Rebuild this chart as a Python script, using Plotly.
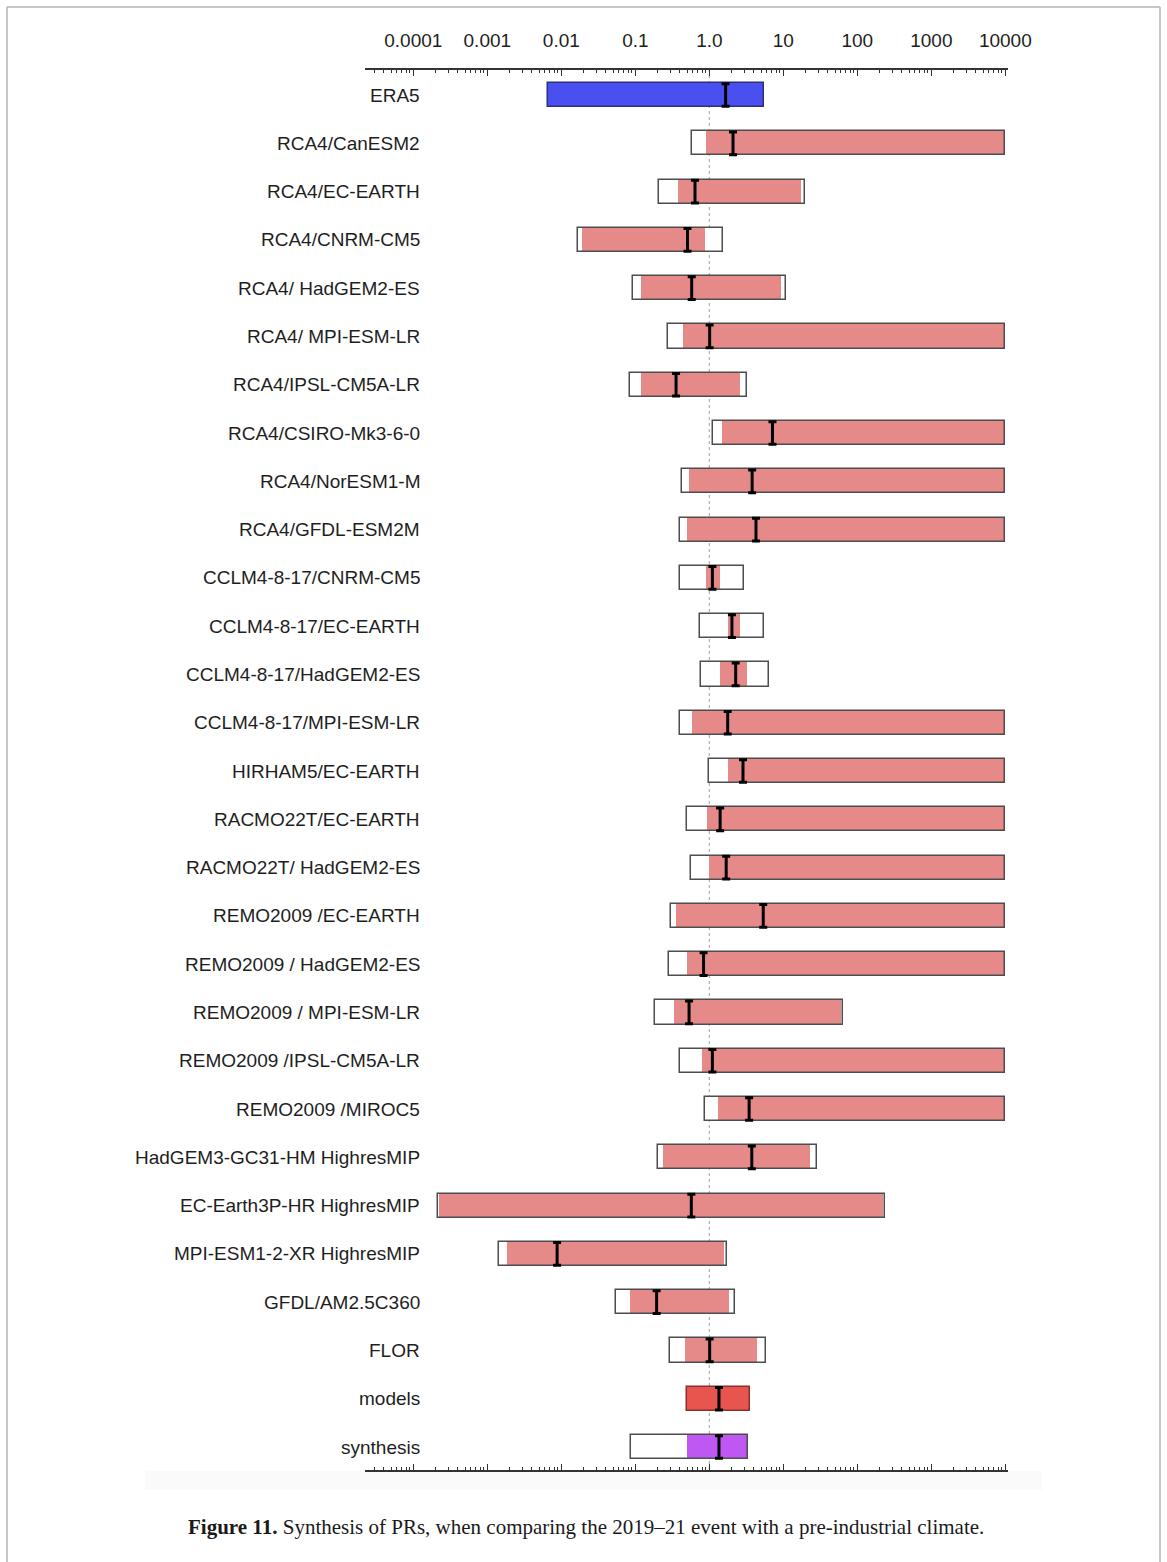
import plotly.graph_objects as go

# Probability ratios (PR) per dataset: outer white box, inner coloured range, best estimate
labels = [
    "ERA5", "RCA4/CanESM2", "RCA4/EC-EARTH", "RCA4/CNRM-CM5", "RCA4/ HadGEM2-ES",
    "RCA4/ MPI-ESM-LR", "RCA4/IPSL-CM5A-LR", "RCA4/CSIRO-Mk3-6-0", "RCA4/NorESM1-M",
    "RCA4/GFDL-ESM2M", "CCLM4-8-17/CNRM-CM5", "CCLM4-8-17/EC-EARTH",
    "CCLM4-8-17/HadGEM2-ES", "CCLM4-8-17/MPI-ESM-LR", "HIRHAM5/EC-EARTH",
    "RACMO22T/EC-EARTH", "RACMO22T/ HadGEM2-ES", "REMO2009 /EC-EARTH",
    "REMO2009 / HadGEM2-ES", "REMO2009 / MPI-ESM-LR", "REMO2009 /IPSL-CM5A-LR",
    "REMO2009 /MIROC5", "HadGEM3-GC31-HM HighresMIP", "EC-Earth3P-HR HighresMIP",
    "MPI-ESM1-2-XR HighresMIP", "GFDL/AM2.5C360", "FLOR", "models", "synthesis",
]

best = [1.66, 2.09, 0.64, 0.507, 0.578, 1.01, 0.355, 7.13, 3.79, 4.27, 1.10, 2.02,
        2.27, 1.77, 2.85, 1.40, 1.69, 5.35, 0.836, 0.532, 1.10, 3.45, 3.75, 0.571,
        0.00877, 0.194, 1.01, 1.35, 1.35]

outer_lo = [0.0066, 0.585, 0.21, 0.0167, 0.0925, 0.28, 0.084, 1.13, 0.425, 0.405,
            0.405, 0.743, 0.77, 0.405, 0.977, 0.495, 0.565, 0.308, 0.283, 0.182,
            0.40, 0.867, 0.203, 0.000217, 0.00142, 0.0548, 0.297, 0.494, 0.0883]
outer_hi = [5.4, 10000, 19.4, 1.53, 10.7, 10000, 3.21, 10000, 10000, 10000,
            2.95, 5.42, 6.4, 10000, 10000, 10000, 10000, 10000, 10000, 63.6,
            10000, 10000, 28.7, 236, 1.71, 2.19, 5.75, 3.58, 3.33]

inner_lo = [0.0066, 0.91, 0.372, 0.0192, 0.120, 0.44, 0.12, 1.48, 0.532, 0.495,
            0.91, 1.77, 1.38, 0.585, 1.77, 0.93, 1.0, 0.351, 0.50, 0.33,
            0.807, 1.30, 0.237, 0.000225, 0.00187, 0.0851, 0.472, 0.494, 0.494]
inner_hi = [5.4, 10000, 17.2, 0.877, 9.37, 10000, 2.59, 10000, 10000, 10000,
            1.40, 2.59, 3.21, 10000, 10000, 10000, 10000, 10000, 10000, 60,
            10000, 10000, 23.1, 222, 1.59, 1.83, 4.37, 3.58, 3.33]

# Row groups: observations, single models, model average, synthesis
group = ["obs"] + ["model"] * 26 + ["models", "synthesis"]
group_fill = {"obs": "#4a4ff0", "model": "#e68a89", "models": "#e8554f", "synthesis": "#bf58f2"}
group_line = {"obs": "#2d2f7a", "model": "#4d4d4d", "models": "#8a2f2b", "synthesis": "#4d4d4d"}

tick_vals = [1e-4, 1e-3, 1e-2, 1e-1, 1, 10, 100, 1000, 10000]
tick_text = ["0.0001", "0.001", "0.01", "0.1", "1.0", "10", "100", "1000", "10000"]

no_change = 1.0

rows = list(range(len(labels)))
bar_w = 0.5

fig = go.Figure()

# white outer box
fig.add_trace(go.Bar(
    orientation="h", y=rows, base=outer_lo,
    x=[h - l for l, h in zip(outer_lo, outer_hi)],
    width=bar_w, marker=dict(color="white", line=dict(width=0)),
    hoverinfo="skip", showlegend=False,
))
# coloured inner range
fig.add_trace(go.Bar(
    orientation="h", y=rows, base=inner_lo,
    x=[h - l for l, h in zip(inner_lo, inner_hi)],
    width=bar_w, marker=dict(color=[group_fill[g] for g in group], line=dict(width=0)),
    hoverinfo="skip", showlegend=False,
))
# outline on top of both
fig.add_trace(go.Bar(
    orientation="h", y=rows, base=outer_lo,
    x=[h - l for l, h in zip(outer_lo, outer_hi)],
    width=bar_w,
    marker=dict(color="rgba(0,0,0,0)",
                line=dict(width=1.5, color=[group_line[g] for g in group])),
    hoverinfo="skip", showlegend=False,
))
# best estimate as an I-beam
fig.add_trace(go.Scatter(
    x=best, y=rows, mode="markers",
    marker=dict(size=1, color="black", opacity=0),
    error_y=dict(type="data", array=[0.235] * len(rows), symmetric=True,
                 color="black", thickness=3, width=4),
    hoverinfo="skip", showlegend=False,
))

# dotted reference line at PR = 1
fig.add_shape(type="line", xref="x", yref="paper", x0=no_change, x1=no_change,
              y0=0, y1=1, layer="below",
              line=dict(color="#b0b0b0", width=1.2, dash="dot"))

# row labels
for r, lab in zip(rows, labels):
    fig.add_annotation(x=(422 - 365) / 643, xref="paper", y=r, yref="y", text=lab,
                       showarrow=False, xanchor="right", yanchor="middle",
                       font=dict(family="Liberation Sans", size=19, color="#1e1e1e"))

# plot geometry in pixels
W, H = 1167, 1562
L, R, T, B = 365, 1008, 70, 1470


def px(xp):
    return (xp - L) / (R - L)


def py(yp):
    return (B - yp) / (B - T)


# faint backing strip below the lower axis
fig.add_shape(type="rect", xref="paper", yref="paper", x0=px(145), x1=px(1042),
              y0=py(1490), y1=py(1471), fillcolor="#fafafa", line=dict(width=0),
              layer="below")

# page frame
frame = dict(color="#b4b4b4", width=1.5)
fig.add_shape(type="line", xref="paper", yref="paper", x0=px(7), x1=px(7),
              y0=py(1562), y1=py(7), line=frame)
fig.add_shape(type="line", xref="paper", yref="paper", x0=px(1160), x1=px(1160),
              y0=py(1562), y1=py(7), line=frame)
fig.add_shape(type="line", xref="paper", yref="paper", x0=px(7), x1=px(1160),
              y0=py(7), y1=py(7), line=frame)

# caption
fig.add_annotation(
    x=px(586), xref="paper", y=py(1527), yref="paper", showarrow=False,
    xanchor="center", yanchor="middle",
    text="<b>Figure 11.</b> Synthesis of PRs, when comparing the 2019–21 event "
         "with a pre-industrial climate.",
    font=dict(family="Liberation Serif", size=21, color="#1a1a1a"),
)

fig.update_layout(
    width=W, height=H,
    margin=dict(l=L, r=W - R, t=T, b=H - B, pad=0),
    paper_bgcolor="white", plot_bgcolor="white",
    barmode="overlay", bargap=0,
    showlegend=False,
    xaxis=dict(
        type="log", range=[-4.653, 4.036], side="top",
        showline=True, linecolor="#333333", linewidth=1.5, mirror="ticks",
        ticks="inside", ticklen=6, tickwidth=1, tickcolor="#333333",
        tickvals=tick_vals, ticktext=tick_text,
        tickfont=dict(family="Liberation Sans", size=19, color="#1e1e1e"),
        ticklabelstandoff=14,
        minor=dict(ticks="inside", ticklen=3, tickwidth=1, tickcolor="#333333",
                   dtick="D1", showgrid=False),
        showgrid=False, zeroline=False,
    ),
    yaxis=dict(
        range=[len(labels) - 1 + 0.476, -0.518],
        showticklabels=False, showgrid=False, zeroline=False, showline=False,
        ticks="",
    ),
)

fig.write_html("out.html")
